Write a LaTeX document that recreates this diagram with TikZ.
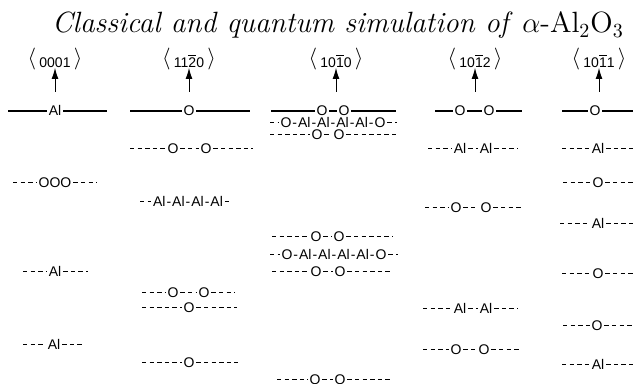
\documentclass[tikz,border=0pt]{standalone}
\usepackage{fontspec}
\usetikzlibrary{arrows.meta}
\newfontfamily\hv{Liberation Sans}
\newcommand\ob[1]{\ensuremath{\overline{\mbox{#1}}}}
\newcommand\hy{\kern0.5pt-\kern0.5pt}
\newcommand\lb{\raisebox{1.5pt}{\fontsize{10.5}{12}\selectfont$\big\langle$}\hspace{1.6pt}}
\newcommand\rb{\hspace{1.6pt}\raisebox{1.5pt}{\fontsize{10.5}{12}\selectfont$\big\rangle$}}
\newcommand\rowone[7]{%
  \coordinate (#1L) at (#4,#3);
  \coordinate (#1R) at (#6,#3);
  \node[atom] (#1a) at (#5,#3) {#7};
  \draw[#2] (#1L) -- (#1a) -- (#1R);}
\newcommand\rowtwo[8]{%
  \coordinate (#1L) at (#4,#3);
  \coordinate (#1R) at (#7,#3);
  \node[atom] (#1a) at (#5,#3) {#8};
  \node[atom] (#1b) at (#6,#3) {#8};
  \draw[#2] (#1L) -- (#1a) -- (#1b) -- (#1R);}
\tikzset{
  atom/.style={font=\hv\fontsize{7}{8}\selectfont, inner xsep=0.8pt, inner ysep=0pt,
    text height=5pt, text depth=0pt, anchor=center},
  solidl/.style={line width=0.55pt},
  dashl/.style={line width=0.5pt, dash pattern=on 2.2pt off 1.6pt},
  hdr/.style={font=\hv\fontsize{7}{8}\selectfont, inner sep=0pt, anchor=base},
  arr/.style={line width=0.45pt, -{Latex[length=5.5pt,width=3.4pt]}, shorten >=-1.5pt}
}
\begin{document}
\begin{tikzpicture}[x=0.5pt,y=-0.5pt]
\useasboundingbox (0,0) rectangle (633,384);
\node[anchor=base, inner sep=0pt] (title) at (338,33)
  {\fontsize{14.65}{17}\selectfont\textit{Classical and quantum simulation of} $\alpha$-Al$_2$O$_3$};
% headers
\node[hdr] (h1) at (55,68) {\lb 0001\rb};
\node[hdr] (h2) at (189,68) {\lb 11\ob{2}0\rb};
\node[hdr] (h3) at (336,68) {\lb 10\ob{1}0\rb};
\node[hdr] (h4) at (475,68) {\lb 10\ob{1}2\rb};
\node[hdr] (h5) at (599,68) {\lb 10\ob{1}1\rb};
\coordinate (t1) at (55,92);
\coordinate (t2) at (189,92);
\coordinate (t3) at (336,92);
\coordinate (t4) at (475,92);
\coordinate (t5) at (599,92);
\draw[arr] (t1) -- (h1.south);
\draw[arr] (t2) -- (h2.south);
\draw[arr] (t3) -- (h3.south);
\draw[arr] (t4) -- (h4.south);
\draw[arr] (t5) -- (h5.south);
% column 1
\rowone{ra}{solidl}{111}{8}{55}{107}{Al}
\rowone{rb}{dashl}{183}{13}{55}{97}{OOO}
\rowone{rc}{dashl}{272}{23}{55}{88}{Al}
\rowone{rd}{dashl}{345}{23}{54}{85}{Al}
% column 2
\rowone{sa}{solidl}{111}{130}{189}{250}{O}
\rowtwo{sb}{dashl}{149}{130}{173}{206}{253}{O}
\rowone{sc}{dashl}{202}{140}{188}{232}{Al\hy Al\hy Al\hy Al}
\rowtwo{sd}{dashl}{293}{142}{173}{204}{235}{O}
\rowone{se}{dashl}{308}{142}{189}{237}{O}
\rowone{sf}{dashl}{363}{142}{189}{238}{O}
% column 3
\rowtwo{ta}{solidl}{111}{271}{322}{344}{396}{O}
\rowone{tb}{dashl}{123}{270}{333}{397}{O\hy Al\hy Al\hy Al\hy Al\hy O}
\rowtwo{tc}{dashl}{135}{270}{317}{339}{398}{O}
\rowtwo{td}{dashl}{237}{272}{316}{339}{393}{O}
\rowone{te}{dashl}{255}{270}{334}{398}{O\hy Al\hy Al\hy Al\hy Al\hy O}
\rowtwo{tf}{dashl}{272}{272}{316}{340}{393}{O}
\rowtwo{tg}{dashl}{380}{277}{315}{340}{390}{O}
% column 4
\rowtwo{ua}{solidl}{111}{435}{460}{489}{522}{O}
\rowtwo{ub}{dashl}{149}{428}{460}{486}{518}{Al}
\rowtwo{uc}{dashl}{208}{425}{456}{486}{523}{O}
\rowtwo{ud}{dashl}{309}{423}{460}{486}{518}{Al}
\rowtwo{ue}{dashl}{350}{423}{456}{484}{520}{O}
% column 5
\rowone{va}{solidl}{111}{562}{595}{634}{O}
\rowone{vb}{dashl}{149}{562}{598}{636}{Al}
\rowone{vc}{dashl}{183}{563}{598}{636}{O}
\rowone{vd}{dashl}{224}{560}{598}{636}{Al}
\rowone{ve}{dashl}{274}{562}{598}{636}{O}
\rowone{vf}{dashl}{326}{563}{597}{636}{O}
\rowone{vg}{dashl}{365}{562}{598}{636}{Al}
\end{tikzpicture}
\end{document}
